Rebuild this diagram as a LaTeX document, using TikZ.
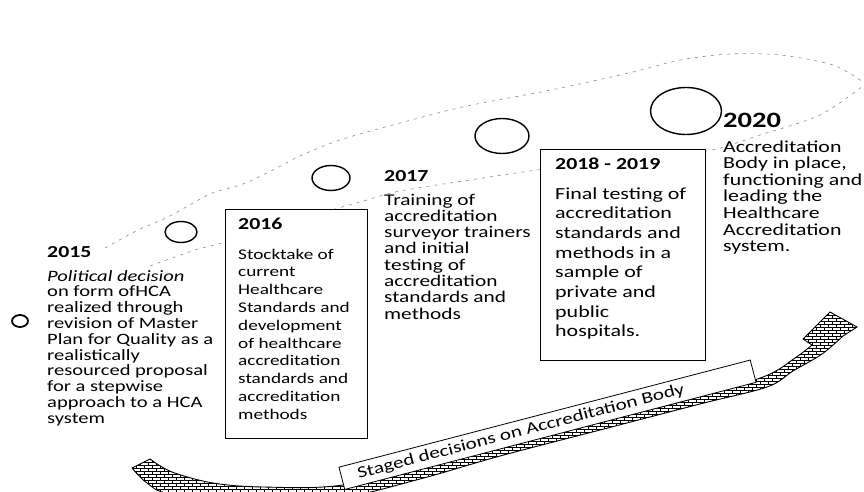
\documentclass[tikz,border=0pt]{standalone}
\usepackage{fontspec}
\setmainfont{Carlito}[FakeStretch=1.3]
\usetikzlibrary{shapes.geometric,patterns}
\pgfdeclarepatternformonly{smallbricks}{\pgfpoint{-0.5pt}{-0.5pt}}{\pgfpoint{8.5pt}{6.5pt}}{\pgfpoint{8pt}{6pt}}{%
  \pgfsetlinewidth{0.5pt}%
  \pgfpathmoveto{\pgfpoint{0pt}{0pt}}\pgfpathlineto{\pgfpoint{8pt}{0pt}}%
  \pgfpathmoveto{\pgfpoint{0pt}{3pt}}\pgfpathlineto{\pgfpoint{8pt}{3pt}}%
  \pgfpathmoveto{\pgfpoint{0pt}{0pt}}\pgfpathlineto{\pgfpoint{0pt}{3pt}}%
  \pgfpathmoveto{\pgfpoint{4pt}{3pt}}\pgfpathlineto{\pgfpoint{4pt}{6pt}}%
  \pgfusepath{stroke}}
\newcommand{\fs}[1]{\fontsize{#1}{#1}\selectfont}
\newcommand{\stk}[2]{\vtop{\baselineskip=#1\relax\lineskiplimit=-\maxdimen\lineskip=0pt\relax #2}}
\begin{document}
\begin{tikzpicture}[x=1pt,y=-1pt,
  guide/.style={draw=black!45, line width=0.6pt, dash pattern=on 3pt off 5pt},
  dot/.style={ellipse, draw, fill=white, inner sep=0pt, line width=1.4pt},
  panel/.style={draw, fill=white, line width=0.9pt, inner sep=0pt},
  txt/.style={anchor=base west, inner sep=0pt},
  arrowbody/.style={draw=black, line width=0.9pt, preaction={fill=white}, pattern=smallbricks, pattern color=black},
  banner/.style={draw, fill=white, line width=0.8pt, inner sep=0pt}]
\useasboundingbox (0,0) rectangle (864,492);
\clip (0,0) rectangle (864,492);
\fill[white] (0,0) rectangle (864,492);

% dashed guide band
\draw[guide] plot[smooth] coordinates {(105,248) (138,230) (170,216) (210,194) (243,184) (273,170) (300,156) (340,140) (400,123) (467,106) (551,90) (633,72) (680,60) (730,54) (780,55) (833,65) (863,82)};
\draw[guide] plot[smooth] coordinates {(150,266) (195,250) (222,243) (290,222) (360,202) (400,191) (470,180) (537,170) (620,160) (707,151) (760,135) (820,115) (863,86)};

% milestones
\node[dot, minimum width=16pt, minimum height=12pt, line width=1.8pt] (c0) at (20,321) {};
\node[dot, minimum width=32pt, minimum height=21pt] (c1) at (181,232) {};
\node[dot, minimum width=38pt, minimum height=25pt] (c2) at (331,178) {};
\node[dot, minimum width=54pt, minimum height=35pt] (c3) at (502,136) {};
\node[dot, minimum width=71pt, minimum height=47pt] (c4) at (686,111) {};

% boxes
\node[panel, minimum width=142pt, minimum height=229pt] (b16) at (296,323.5) {};
\node[panel, minimum width=165pt, minimum height=211pt] (b18) at (622.5,254.5) {};

% texts
\node[txt, font={\fs{16.8}\bfseries}] (h15) at (47,257) {2015};
\node[txt, font={\fs{15.8}}] (t15) at (47,281) {\stk{15.8pt}{%
  \hbox{\itshape Political decision}\hbox{on form ofHCA}\hbox{realized through}%
  \hbox{revision of Master}\hbox{Plan for Quality as a}\hbox{realistically}%
  \hbox{resourced proposal}\hbox{for a stepwise}\hbox{approach to a HCA}\hbox{system}}};

\node[txt, font={\fs{16.8}\bfseries}] (h16) at (238,229) {2016};
\node[txt, font={\fs{14.8}}] (t16) at (238,259) {\stk{17.8pt}{%
  \hbox{Stocktake of}\hbox{current}\hbox{Healthcare}\hbox{Standards and}%
  \hbox{development}\hbox{of healthcare}\hbox{accreditation}\hbox{standards and}%
  \hbox{accreditation}\hbox{methods}}};

\node[txt, font={\fs{16.8}\bfseries}] (h17) at (384,181) {2017};
\node[txt, font={\fs{16.4}}] (t17) at (384,205) {\stk{16.3pt}{%
  \hbox{Training of}\hbox{accreditation}\hbox{surveyor trainers}\hbox{and initial}%
  \hbox{testing of}\hbox{accreditation}\hbox{standards and}\hbox{methods}}};

\node[txt, font={\fs{16.8}\bfseries}] (h18) at (555,169) {2018 - 2019};
\node[txt, font={\fs{16.9}}] (t18) at (555,199) {\stk{19.7pt}{%
  \hbox{Final testing of}\hbox{accreditation}\hbox{standards and}\hbox{methods in a}%
  \hbox{sample of}\hbox{private and}\hbox{public}\hbox{hospitals.}}};

\node[txt, font={\fs{21.9}\bfseries}] (h20) at (723,128) {2020};
\node[txt, font={\fs{16.8}}] (t20) at (723,152) {\stk{16.6pt}{%
  \hbox{Accreditation}\hbox{Body in place,}\hbox{functioning and}\hbox{leading the}%
  \hbox{Healthcare}\hbox{Accreditation}\hbox{system.}}};

% curved up arrow
\draw[arrowbody] plot[smooth, tension=0.55] coordinates {(150,459) (172,472) (213,483) (263,487) (343,485) (450,460) (560,432) (680,402) (763,377) (795,358) (812,345)}
  -- (803,339) -- (830,312) -- (857,327) -- (843,336)
  -- plot[smooth, tension=0.55] coordinates {(843,336) (822,354) (793,371) (767,387) (700,404) (600,430) (500,456) (420,479) (340,498) (250,503) (170,494) (147,483) (132,468)}
  -- cycle;

% banner
\node[banner, minimum width=425pt, minimum height=23pt, rotate=14.6] (ban) at (547.5,424.75) {};
\node[inner sep=0pt, rotate=14.6, font={\fs{16.3}}] (bantext) at (521,432) {Staged decisions on Accreditation Body};
\end{tikzpicture}
\end{document}
